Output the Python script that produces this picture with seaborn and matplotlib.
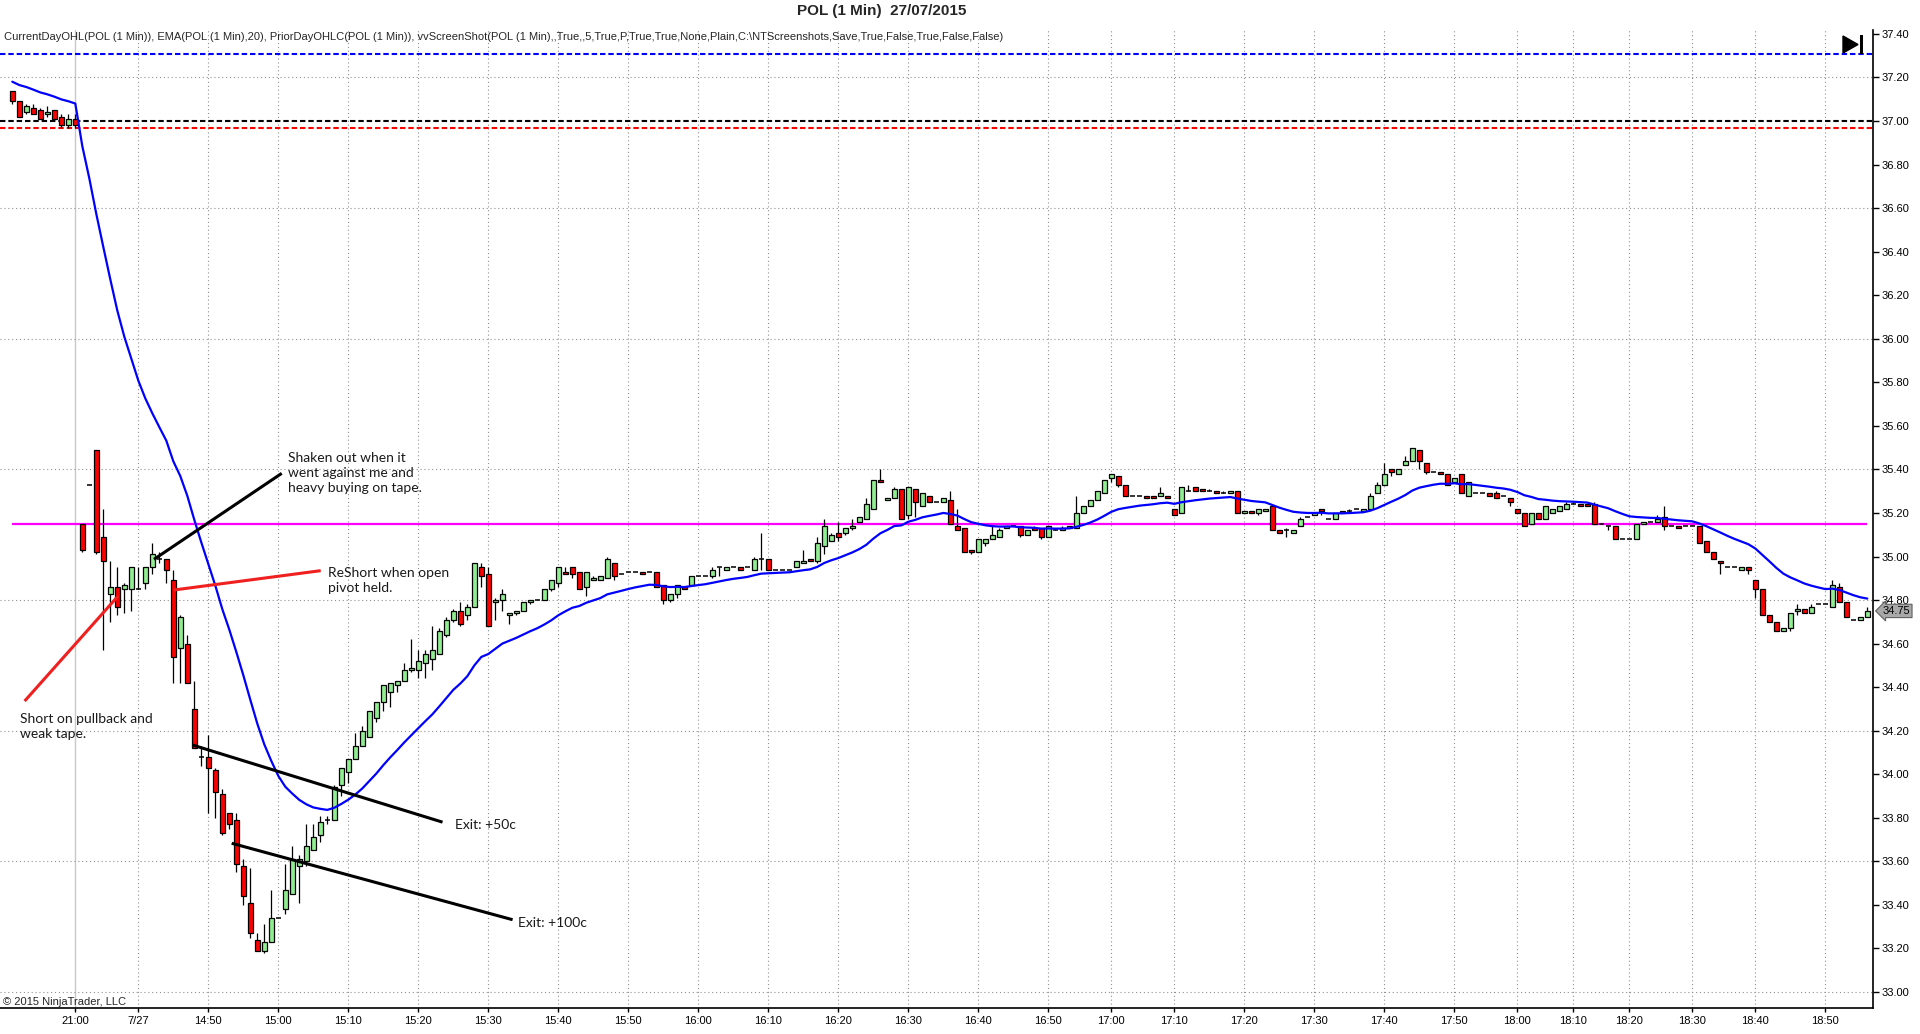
import numpy as np
import pandas as pd
import matplotlib
matplotlib.use("Agg")
import matplotlib.pyplot as plt
import matplotlib.transforms as mtransforms
from matplotlib.patches import Polygon, Rectangle
import seaborn as sns

# ---------------- data (1-minute bars) ----------------
opens = [37.14, 37.09, 37.04, 37.06, 37.05, 37.03, 37.05, 37.02, 36.98, 37.01,
         35.15, 35.33, 35.49, 35.09, 34.83, 34.86, 34.85, 34.85, 34.85, 34.88,
         34.95, 34.99, 34.99, 34.89, 34.58, 34.60, 34.30, 34.08, 34.08, 34.02,
         33.91, 33.82, 33.79, 33.58, 33.41, 33.24, 33.19, 33.23, 33.34, 33.38,
         33.45, 33.58, 33.60, 33.65, 33.72, 33.79, 33.79, 33.95, 34.01, 34.07,
         34.13, 34.17, 34.26, 34.33, 34.38, 34.41, 34.43, 34.48, 34.48, 34.51,
         34.53, 34.55, 34.64, 34.71, 34.75, 34.73, 34.77, 34.95, 34.92, 34.79,
         34.80, 34.73, 34.74, 34.75, 34.79, 34.80, 34.80, 34.85, 34.88, 34.93,
         34.95, 34.93, 34.86, 34.89, 34.89, 34.90, 34.97, 34.92, 34.93, 34.93,
         34.93, 34.93, 34.93, 34.87, 34.80, 34.83, 34.86, 34.87, 34.91, 34.91,
         34.91, 34.95, 34.94, 34.95, 34.95, 34.95, 34.94, 34.99, 34.99, 34.94,
         34.94, 34.94, 34.95, 34.97, 34.99, 34.98, 35.05, 35.07, 35.11, 35.11,
         35.13, 35.16, 35.17, 35.22, 35.35, 35.26, 35.27, 35.31, 35.19, 35.31,
         35.23, 35.28, 35.25, 35.25, 35.26, 35.14, 35.13, 35.03, 35.02, 35.06,
         35.08, 35.09, 35.13, 35.14, 35.14, 35.10, 35.13, 35.13, 35.09, 35.12,
         35.12, 35.13, 35.13, 35.20, 35.23, 35.26, 35.29, 35.36, 35.37, 35.33,
         35.28, 35.28, 35.28, 35.28, 35.28, 35.28, 35.22, 35.20, 35.30, 35.32,
         35.31, 35.30, 35.30, 35.29, 35.29, 35.30, 35.20, 35.21, 35.20, 35.21,
         35.23, 35.12, 35.12, 35.11, 35.14, 35.18, 35.19, 35.22, 35.17, 35.17,
         35.21, 35.21, 35.22, 35.21, 35.22, 35.29, 35.33, 35.40, 35.38, 35.42,
         35.44, 35.49, 35.43, 35.39, 35.39, 35.38, 35.34, 35.38, 35.28, 35.29,
         35.29, 35.29, 35.29, 35.28, 35.27, 35.22, 35.20, 35.15, 35.20, 35.17,
         35.20, 35.21, 35.22, 35.24, 35.24, 35.24, 35.24, 35.15, 35.14, 35.14,
         35.08, 35.08, 35.08, 35.15, 35.16, 35.16, 35.18, 35.14, 35.14, 35.14,
         35.14, 35.14, 35.07, 35.02, 34.98, 34.95, 34.95, 34.94, 34.95, 34.89,
         34.85, 34.73, 34.70, 34.66, 34.67, 34.75, 34.76, 34.74, 34.78, 34.78,
         34.77, 34.86, 34.79, 34.71, 34.71, 34.72]
highs = [37.14, 37.09, 37.08, 37.08, 37.06, 37.07, 37.05, 37.03, 37.03, 37.03,
         35.15, 35.33, 35.49, 35.22, 34.98, 34.95, 34.88, 34.95, 34.95, 34.95,
         35.06, 35.02, 34.99, 34.94, 34.73, 34.64, 34.43, 34.13, 34.18, 34.03,
         33.93, 33.82, 33.82, 33.61, 33.57, 33.27, 33.31, 33.47, 33.34, 33.59,
         33.67, 33.63, 33.77, 33.77, 33.81, 33.81, 33.95, 34.03, 34.07, 34.19,
         34.22, 34.29, 34.33, 34.41, 34.42, 34.43, 34.51, 34.62, 34.57, 34.57,
         34.68, 34.67, 34.72, 34.76, 34.79, 34.78, 34.97, 34.97, 34.95, 34.81,
         34.85, 34.74, 34.75, 34.79, 34.80, 34.80, 34.85, 34.89, 34.95, 34.95,
         34.95, 34.93, 34.93, 34.91, 34.91, 35.00, 34.97, 34.92, 34.93, 34.93,
         34.93, 34.93, 34.93, 34.87, 34.83, 34.87, 34.86, 34.91, 34.91, 34.91,
         34.95, 34.95, 34.95, 34.95, 34.95, 34.95, 35.00, 35.11, 34.99, 34.94,
         34.94, 34.94, 34.98, 35.03, 34.99, 35.09, 35.17, 35.11, 35.16, 35.13,
         35.17, 35.18, 35.27, 35.35, 35.40, 35.27, 35.32, 35.31, 35.32, 35.31,
         35.29, 35.28, 35.25, 35.27, 35.30, 35.22, 35.13, 35.03, 35.08, 35.08,
         35.14, 35.13, 35.14, 35.14, 35.14, 35.12, 35.14, 35.13, 35.14, 35.13,
         35.14, 35.14, 35.28, 35.23, 35.26, 35.30, 35.35, 35.38, 35.37, 35.33,
         35.28, 35.28, 35.28, 35.28, 35.32, 35.28, 35.22, 35.32, 35.33, 35.32,
         35.31, 35.31, 35.30, 35.30, 35.30, 35.30, 35.21, 35.21, 35.22, 35.22,
         35.23, 35.12, 35.13, 35.12, 35.18, 35.18, 35.20, 35.22, 35.17, 35.20,
         35.21, 35.22, 35.22, 35.22, 35.29, 35.34, 35.43, 35.40, 35.40, 35.46,
         35.50, 35.49, 35.43, 35.39, 35.39, 35.38, 35.36, 35.38, 35.34, 35.29,
         35.29, 35.29, 35.30, 35.28, 35.27, 35.22, 35.20, 35.20, 35.20, 35.23,
         35.22, 35.23, 35.25, 35.25, 35.24, 35.24, 35.25, 35.15, 35.14, 35.14,
         35.08, 35.08, 35.15, 35.16, 35.16, 35.19, 35.23, 35.14, 35.14, 35.14,
         35.14, 35.14, 35.07, 35.02, 34.98, 34.95, 34.95, 34.95, 34.95, 34.89,
         34.85, 34.73, 34.70, 34.67, 34.74, 34.78, 34.76, 34.78, 34.78, 34.78,
         34.89, 34.88, 34.79, 34.71, 34.72, 34.77]
lows = [37.08, 37.02, 37.03, 37.03, 37.01, 37.02, 37.01, 36.97, 36.97, 36.97,
        35.02, 35.33, 35.01, 34.57, 34.70, 34.73, 34.74, 34.75, 34.85, 34.85,
        34.92, 34.97, 34.88, 34.42, 34.42, 34.42, 34.12, 34.04, 33.82, 33.80,
        33.72, 33.75, 33.55, 33.40, 33.25, 33.19, 33.18, 33.23, 33.34, 33.36,
        33.45, 33.41, 33.58, 33.65, 33.69, 33.77, 33.79, 33.90, 33.96, 34.07,
        34.13, 34.17, 34.24, 34.29, 34.31, 34.38, 34.43, 34.47, 34.44, 34.44,
        34.48, 34.55, 34.63, 34.70, 34.68, 34.71, 34.77, 34.86, 34.68, 34.71,
        34.75, 34.69, 34.73, 34.75, 34.78, 34.80, 34.80, 34.84, 34.86, 34.92,
        34.90, 34.85, 34.82, 34.89, 34.89, 34.90, 34.89, 34.92, 34.93, 34.93,
        34.92, 34.93, 34.86, 34.78, 34.79, 34.81, 34.85, 34.87, 34.91, 34.91,
        34.90, 34.91, 34.94, 34.95, 34.94, 34.95, 34.94, 34.94, 34.94, 34.94,
        34.94, 34.94, 34.95, 34.97, 34.98, 34.97, 35.01, 35.07, 35.07, 35.10,
        35.12, 35.16, 35.17, 35.22, 35.34, 35.26, 35.27, 35.17, 35.17, 35.18,
        35.23, 35.25, 35.25, 35.25, 35.15, 35.12, 35.02, 35.01, 35.02, 35.05,
        35.08, 35.09, 35.13, 35.14, 35.09, 35.10, 35.12, 35.08, 35.09, 35.12,
        35.12, 35.13, 35.13, 35.20, 35.23, 35.26, 35.29, 35.34, 35.32, 35.28,
        35.28, 35.28, 35.27, 35.27, 35.28, 35.27, 35.19, 35.20, 35.30, 35.30,
        35.30, 35.30, 35.29, 35.29, 35.29, 35.20, 35.20, 35.20, 35.19, 35.21,
        35.12, 35.11, 35.09, 35.11, 35.14, 35.18, 35.19, 35.19, 35.17, 35.17,
        35.20, 35.20, 35.22, 35.21, 35.22, 35.29, 35.33, 35.37, 35.38, 35.42,
        35.44, 35.40, 35.38, 35.39, 35.38, 35.33, 35.34, 35.29, 35.28, 35.29,
        35.29, 35.28, 35.27, 35.28, 35.23, 35.20, 35.14, 35.15, 35.17, 35.17,
        35.20, 35.21, 35.22, 35.24, 35.23, 35.23, 35.15, 35.15, 35.12, 35.08,
        35.08, 35.08, 35.08, 35.15, 35.16, 35.16, 35.12, 35.14, 35.13, 35.14,
        35.14, 35.06, 35.02, 34.99, 34.92, 34.95, 34.95, 34.94, 34.92, 34.81,
        34.73, 34.70, 34.66, 34.66, 34.66, 34.73, 34.74, 34.74, 34.78, 34.78,
        34.77, 34.79, 34.72, 34.71, 34.71, 34.72]
closes = [37.09, 37.02, 37.07, 37.03, 37.01, 37.04, 37.01, 36.98, 37.01, 36.98,
          35.03, 35.33, 35.02, 34.98, 34.86, 34.77, 34.87, 34.95, 34.85, 34.95,
          35.01, 34.99, 34.94, 34.54, 34.72, 34.42, 34.12, 34.08, 34.03, 33.92,
          33.73, 33.77, 33.59, 33.44, 33.27, 33.19, 33.23, 33.34, 33.34, 33.47,
          33.61, 33.61, 33.67, 33.71, 33.78, 33.79, 33.94, 34.03, 34.07, 34.13,
          34.20, 34.29, 34.33, 34.41, 34.42, 34.43, 34.48, 34.49, 34.52, 34.55,
          34.57, 34.66, 34.71, 34.75, 34.69, 34.77, 34.97, 34.91, 34.68, 34.80,
          34.83, 34.74, 34.75, 34.79, 34.80, 34.80, 34.85, 34.89, 34.95, 34.92,
          34.92, 34.85, 34.93, 34.90, 34.91, 34.99, 34.91, 34.92, 34.93, 34.93,
          34.92, 34.93, 34.86, 34.80, 34.83, 34.87, 34.85, 34.91, 34.91, 34.91,
          34.94, 34.95, 34.95, 34.95, 34.94, 34.95, 34.99, 34.99, 34.94, 34.94,
          34.94, 34.94, 34.98, 34.98, 34.98, 35.06, 35.14, 35.10, 35.09, 35.13,
          35.14, 35.18, 35.24, 35.35, 35.34, 35.27, 35.31, 35.17, 35.32, 35.25,
          35.29, 35.25, 35.25, 35.27, 35.15, 35.12, 35.02, 35.02, 35.08, 35.08,
          35.10, 35.12, 35.14, 35.14, 35.10, 35.12, 35.12, 35.09, 35.14, 35.12,
          35.13, 35.14, 35.20, 35.23, 35.26, 35.30, 35.35, 35.38, 35.33, 35.28,
          35.28, 35.28, 35.27, 35.27, 35.29, 35.27, 35.19, 35.32, 35.30, 35.30,
          35.30, 35.30, 35.29, 35.29, 35.30, 35.20, 35.21, 35.20, 35.22, 35.22,
          35.12, 35.11, 35.12, 35.12, 35.17, 35.18, 35.20, 35.21, 35.17, 35.20,
          35.20, 35.21, 35.22, 35.22, 35.28, 35.33, 35.38, 35.39, 35.40, 35.44,
          35.50, 35.44, 35.39, 35.39, 35.38, 35.33, 35.36, 35.29, 35.34, 35.29,
          35.29, 35.28, 35.27, 35.28, 35.25, 35.20, 35.14, 35.20, 35.17, 35.23,
          35.22, 35.23, 35.24, 35.24, 35.23, 35.23, 35.15, 35.15, 35.14, 35.08,
          35.08, 35.08, 35.15, 35.16, 35.16, 35.17, 35.14, 35.14, 35.13, 35.14,
          35.14, 35.06, 35.02, 34.99, 34.97, 34.95, 34.95, 34.95, 34.94, 34.85,
          34.73, 34.70, 34.66, 34.67, 34.74, 34.76, 34.74, 34.77, 34.78, 34.78,
          34.87, 34.79, 34.72, 34.71, 34.72, 34.75]

ema_seed = 37.19          # EMA(20) value carried in from earlier history
ema_period = 20

time_labels = ["21:00", "7/27", "14:50", "15:00", "15:10", "15:20", "15:30", "15:40",
               "15:50", "16:00", "16:10", "16:20", "16:30", "16:40", "16:50", "17:00",
               "17:10", "17:20", "17:30", "17:40", "17:50", "18:00", "18:10", "18:20",
               "18:30", "18:40", "18:50"]
time_label_bars = [9, 18, 28, 38, 48, 58, 68, 78, 88, 98, 108, 118, 128, 138, 148, 157,
                   166, 176, 186, 196, 206, 215, 223, 231, 240, 249, 259]

prior_high = 37.31
prior_close = 37.00
prior_low = 36.97
current_open = 35.15
last_price = 34.75

title = "POL (1 Min)  27/07/2015"
indicator_text = ("CurrentDayOHL(POL (1 Min)), EMA(POL (1 Min),20), PriorDayOHLC(POL (1 Min)), "
                  "vvScreenShot(POL (1 Min),,True,,5,True,P,True,True,None,Plain,C:\\NTScreenshots,"
                  "Save,True,False,True,False,False)")

# hand-drawn annotations: (x0, y0, x1, y1, colour), text (x, y, s)
annot_lines = [(1.76, 34.336, 15.1, 34.818, "#f02020"),
               (20.24, 34.987, 38.49, 35.382, "black"),
               (23.04, 34.846, 44.06, 34.935, "#f02020"),
               (25.77, 34.134, 61.46, 33.780, "black"),
               (31.34, 33.683, 71.47, 33.332, "black")]
annot_texts = [(1.1, 34.220, "Short on pullback and\nweak tape."),
               (39.4, 35.383, "Shaken out when it\nwent against me and\nheavy buying on tape."),
               (45.1, 34.890, "ReShort when open\npivot held."),
               (63.2, 33.768, "Exit: +50c"),
               (72.2, 33.318, "Exit: +100c")]

# ---------------- build ----------------
df = pd.DataFrame({"open": opens, "high": highs, "low": lows, "close": closes})
df["bar"] = np.arange(len(df))
ema = pd.Series([ema_seed] + closes).ewm(span=ema_period, adjust=False).mean().iloc[1:]
df["ema"] = ema.values

sns.set_style("white")
plt.rcParams["font.family"] = ["Liberation Sans", "DejaVu Sans"]

W, H = 1920, 1034
fig = plt.figure(figsize=(W / 100, H / 100), dpi=100)
fig.patch.set_facecolor("white")
ax_left, ax_right, ax_top, ax_bottom = 0, 1873, 30, 1008
ax = fig.add_axes([ax_left / W, 1 - ax_bottom / H, (ax_right - ax_left) / W, (ax_bottom - ax_top) / H])
ax.set_facecolor("white")

px_per_bar = 7.0
first_bar_px = 12.3
ax.set_xlim((ax_left - first_bar_px) / px_per_bar, (ax_right - first_bar_px) / px_per_bar)
ax.set_ylim(32.9265, 37.418)

# grid
for b, lab in zip(time_label_bars, time_labels):
    if lab == "21:00":
        ax.axvline(b, color="#c8c8c8", lw=1.0, zorder=0)
    else:
        ax.axvline(b, color="#909090", lw=0.8, ls=(0, (1, 2.5)), zorder=0)
for g in np.arange(33.0, 37.41, 0.6):
    ax.axhline(g, color="#909090", lw=0.8, ls=(0, (1, 2.5)), zorder=0)

# prior-day levels
ax.axhline(prior_high, color="#0000ff", lw=1.5, ls=(0, (2.6, 1.4)), zorder=2)
ax.axhline(prior_close, color="black", lw=1.5, ls=(0, (2.6, 1.4)), zorder=2)
ax.axhline(prior_low, color="#ff0000", lw=1.5, ls=(0, (2.6, 1.4)), zorder=2)
ax.plot([df["bar"].iloc[0], df["bar"].iloc[-1]], [current_open, current_open],
        color="#ff00ff", lw=1.6, zorder=2, solid_capstyle="butt")

# candles
up = df["close"] > df["open"]
down = df["close"] < df["open"]
flat = df["close"] == df["open"]
ax.vlines(df["bar"], df["low"], df["high"], color="black", lw=0.9, zorder=3)
body_w = 0.72
ax.bar(df["bar"][up], (df["close"] - df["open"])[up], bottom=df["open"][up], width=body_w,
       color="#90ee90", edgecolor="black", linewidth=0.9, zorder=4)
ax.bar(df["bar"][down], (df["open"] - df["close"])[down], bottom=df["close"][down], width=body_w,
       color="#ff0000", edgecolor="black", linewidth=0.9, zorder=4)
ax.hlines(df["close"][flat], df["bar"][flat] - body_w / 2, df["bar"][flat] + body_w / 2,
          color="black", lw=1.1, zorder=4)

# EMA
sns.lineplot(data=df, x="bar", y="ema", ax=ax, color="#0000ff", lw=1.6, zorder=5, legend=False)

# annotations
for x0, y0, x1, y1, c in annot_lines:
    ax.plot([x0, x1], [y0, y1], color=c, lw=2.2, zorder=6, solid_capstyle="butt")
for x, y, s in annot_texts:
    ax.text(x, y, s, fontsize=10, family=["Lato", "DejaVu Sans"], color="#1a1a1a",
            va="center", ha="left", linespacing=1.3, zorder=7)

# axes styling
for sp in ["left", "top"]:
    ax.spines[sp].set_visible(False)
for sp in ["right", "bottom"]:
    ax.spines[sp].set_visible(True)
    ax.spines[sp].set_color("black")
    ax.spines[sp].set_linewidth(1.2)
ax.yaxis.tick_right()
ax.set_yticks(np.round(np.arange(33.0, 37.41, 0.2), 2))
ax.set_yticklabels([f"{v:.2f}" for v in np.arange(33.0, 37.41, 0.2)])
ax.set_xticks(time_label_bars)
ax.set_xticklabels(time_labels)
ax.tick_params(axis="y", which="both", right=True, left=False, length=4.5, width=1,
               pad=1.5, labelsize=8, colors="black")
ax.tick_params(axis="x", which="both", bottom=True, length=3, width=1, pad=3,
               labelsize=8, colors="black")
ax.set_xlabel("")
ax.set_ylabel("")
ax.grid(False)

# last price marker
trans = mtransforms.blended_transform_factory(ax.transAxes, ax.transData)
ax.text(1.0052, last_price, f"{last_price:.2f}", transform=trans, fontsize=8, va="center",
        ha="left", color="black", zorder=10, clip_on=False,
        bbox=dict(boxstyle="larrow,pad=0.15", fc="#a8a8a8", ec="#606060", lw=0.8))

# header texts
fig.text(882 / W, 1 - 11 / H, title, ha="center", va="center", fontsize=11, fontweight="bold")
fig.text(4 / W, 1 - 37 / H, indicator_text, ha="left", va="center", fontsize=8)
fig.text(3 / W, 1 - 1002 / H, "\u00a9 2015 NinjaTrader, LLC", ha="left", va="center", fontsize=8)

# "go to end" icon
tri = Polygon([[1843 / W, 1 - 36 / H], [1843 / W, 1 - 53 / H], [1858 / W, 1 - 44.5 / H]],
              closed=True, transform=fig.transFigure, fc="black", ec="black", zorder=20)
bar = Rectangle((1860 / W, 1 - 54 / H), 3 / W, 19 / H, transform=fig.transFigure,
                fc="black", ec="none", zorder=20)
fig.patches.extend([tri, bar])

fig.savefig("out.png", dpi=100, facecolor="white")
